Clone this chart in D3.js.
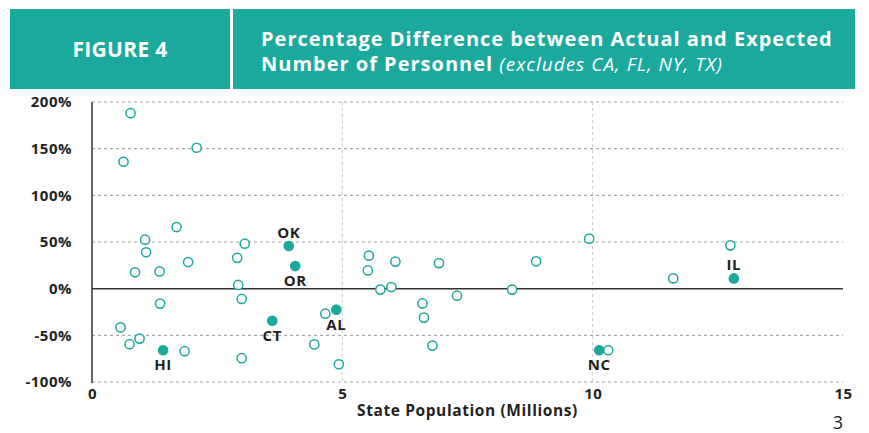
<!DOCTYPE html>
<html>
<head>
<meta charset="utf-8">
<script src="https://cdn.jsdelivr.net/npm/d3@7"></script>
<style>
  body { margin: 0; background: #fff; }
  svg text { font-family: "Open Sans", sans-serif; }
</style>
</head>
<body>
<div id="chart"></div>
<script>
// Unlabelled states: population (millions) and % difference
var openPop = [0.77, 0.63, 2.09, 1.69, 1.06, 1.08, 0.86, 1.35, 1.92, 3.05,
  2.90, 2.92, 2.99, 1.36, 0.57, 0.95, 0.75, 1.85, 2.99, 4.66,
  4.44, 4.93, 5.53, 5.51, 6.06, 5.76, 5.98, 6.60, 6.63, 6.80,
  6.93, 7.29, 8.39, 8.87, 9.93, 10.31, 11.61, 12.75];
var openPct = [188, 136, 151, 66, 52.5, 39, 17.5, 18.5, 28.5, 48.2,
  33, 4, -11, -16, -41.5, -53.5, -59.5, -67, -74.5, -26.8,
  -59.7, -81, 35.4, 19.5, 29, -1, 1.7, -15.8, -31, -61,
  27.4, -7.5, -1, 29.3, 53.6, -66, 11, 46.4];

// Highlighted states
var stateCodes = ["OK", "OR", "AL", "CT", "HI", "NC", "IL"];
var statePop = [3.93, 4.06, 4.88, 3.60, 1.42, 10.13, 12.82];
var statePct = [45.7, 24.2, -22.5, -34.3, -66, -66, 11];
var labelSide = ["above", "below", "below", "below", "below", "below", "above"];

var xTicks = [0, 5, 10, 15];
var yTicks = [200, 150, 100, 50, 0, -50, -100];

var svgWidth = 869;
var svgHeight = 433;
var teal = "#1aa99c";
var ink = "#231f20";

var margin = { top: 102, right: 26, bottom: 50, left: 92 };
var width = 843 - margin.left;
var height = 382 - margin.top;

var svg = d3.select("#chart")
  .append("svg")
  .attr("width", svgWidth)
  .attr("height", svgHeight);

// Header band
svg.append("rect")
  .attr("x", 10).attr("y", 9)
  .attr("width", 845).attr("height", 80)
  .attr("fill", teal);

svg.append("rect")
  .attr("x", 230).attr("y", 9)
  .attr("width", 3).attr("height", 80)
  .attr("fill", "#fff");

svg.append("text")
  .attr("x", 120).attr("y", 57)
  .attr("text-anchor", "middle")
  .attr("fill", "#fff")
  .attr("font-size", 21)
  .attr("font-weight", 700)
  .attr("letter-spacing", 0.3)
  .text("FIGURE 4");

svg.append("text")
  .attr("x", 261).attr("y", 46)
  .attr("fill", "#fff")
  .attr("font-size", 20)
  .attr("font-weight", 700)
  .attr("letter-spacing", 1)
  .text("Percentage Difference between Actual and Expected");

var t2 = svg.append("text")
  .attr("x", 261).attr("y", 71)
  .attr("fill", "#fff")
  .attr("font-size", 20)
  .attr("letter-spacing", 1);
t2.append("tspan").attr("font-weight", 700).text("Number of Personnel ");
t2.append("tspan").attr("font-style", "italic").attr("font-size", 19).text("(excludes CA, FL, NY, TX)");

var chartGroup = svg.append("g")
  .attr("transform", `translate(${margin.left}, ${margin.top})`);

var xScale = d3.scaleLinear().domain([0, 15]).range([0, width]);
var yScale = d3.scaleLinear().domain([-100, 200]).range([height, 0]);

// horizontal gridlines
chartGroup.selectAll(".hgrid")
  .data(yTicks.filter(d => d !== 0))
  .enter()
  .append("line")
  .attr("x1", 0).attr("x2", width)
  .attr("y1", d => yScale(d)).attr("y2", d => yScale(d))
  .attr("stroke", "#a8a8a8")
  .attr("stroke-width", 1.2)
  .attr("stroke-dasharray", "3,3");

// vertical gridlines
chartGroup.selectAll(".vgrid")
  .data([5, 10])
  .enter()
  .append("line")
  .attr("x1", d => xScale(d)).attr("x2", d => xScale(d))
  .attr("y1", 0).attr("y2", height)
  .attr("stroke", "#c8c8c8")
  .attr("stroke-width", 1)
  .attr("stroke-dasharray", "3,3");

// zero line and y axis line
chartGroup.append("line")
  .attr("x1", 0).attr("x2", width)
  .attr("y1", yScale(0)).attr("y2", yScale(0))
  .attr("stroke", "#333").attr("stroke-width", 1.5);

chartGroup.append("line")
  .attr("x1", 0).attr("x2", 0)
  .attr("y1", 0).attr("y2", height + 1)
  .attr("stroke", "#333").attr("stroke-width", 1.5);

// y tick labels
var leftAxis = d3.axisLeft(yScale)
  .tickValues(yTicks)
  .tickSize(0)
  .tickPadding(20)
  .tickFormat(d => d + "%");
var yAxis = chartGroup.append("g").call(leftAxis);
yAxis.select(".domain").remove();
yAxis.selectAll("text")
  .attr("font-family", "Open Sans, sans-serif")
  .attr("font-size", 15)
  .attr("font-weight", 700)
  .attr("letter-spacing", 0.5)
  .attr("fill", ink);

// x tick labels
var bottomAxis = d3.axisBottom(xScale)
  .tickValues(xTicks)
  .tickSize(0)
  .tickPadding(6);
var xAxis = chartGroup.append("g")
  .attr("transform", `translate(0, ${height})`)
  .call(bottomAxis);
xAxis.select(".domain").remove();
xAxis.selectAll("text")
  .attr("font-family", "Open Sans, sans-serif")
  .attr("font-size", 15)
  .attr("font-weight", 700)
  .attr("letter-spacing", 0.4)
  .attr("fill", ink);

// x axis title
chartGroup.append("text")
  .attr("x", xScale(7.5)).attr("y", height + 34)
  .attr("text-anchor", "middle")
  .attr("font-size", 15.5)
  .attr("font-weight", 700)
  .attr("letter-spacing", 0.6)
  .attr("fill", ink)
  .text("State Population (Millions)");

// open circles
chartGroup.selectAll(".openPt")
  .data(openPop)
  .enter()
  .append("circle")
  .attr("cx", d => xScale(d))
  .attr("cy", (d, i) => yScale(openPct[i]))
  .attr("r", 4.6)
  .attr("fill", "#fff")
  .attr("stroke", teal)
  .attr("stroke-width", 1.5);

// highlighted states
chartGroup.selectAll(".statePt")
  .data(stateCodes)
  .enter()
  .append("circle")
  .attr("cx", (d, i) => xScale(statePop[i]))
  .attr("cy", (d, i) => yScale(statePct[i]))
  .attr("r", 5.3)
  .attr("fill", teal);

chartGroup.selectAll(".stateLabel")
  .data(stateCodes)
  .enter()
  .append("text")
  .attr("x", (d, i) => xScale(statePop[i]))
  .attr("y", (d, i) => yScale(statePct[i]) + (labelSide[i] === "above" ? -8 : 20))
  .attr("text-anchor", "middle")
  .attr("font-size", 15)
  .attr("font-weight", 700)
  .attr("letter-spacing", 0.6)
  .attr("fill", ink)
  .text(d => d);

// page number
svg.append("text")
  .attr("x", 838).attr("y", 429)
  .attr("text-anchor", "middle")
  .attr("font-size", 18)
  .attr("fill", ink)
  .text("3");
</script>
</body>
</html>
